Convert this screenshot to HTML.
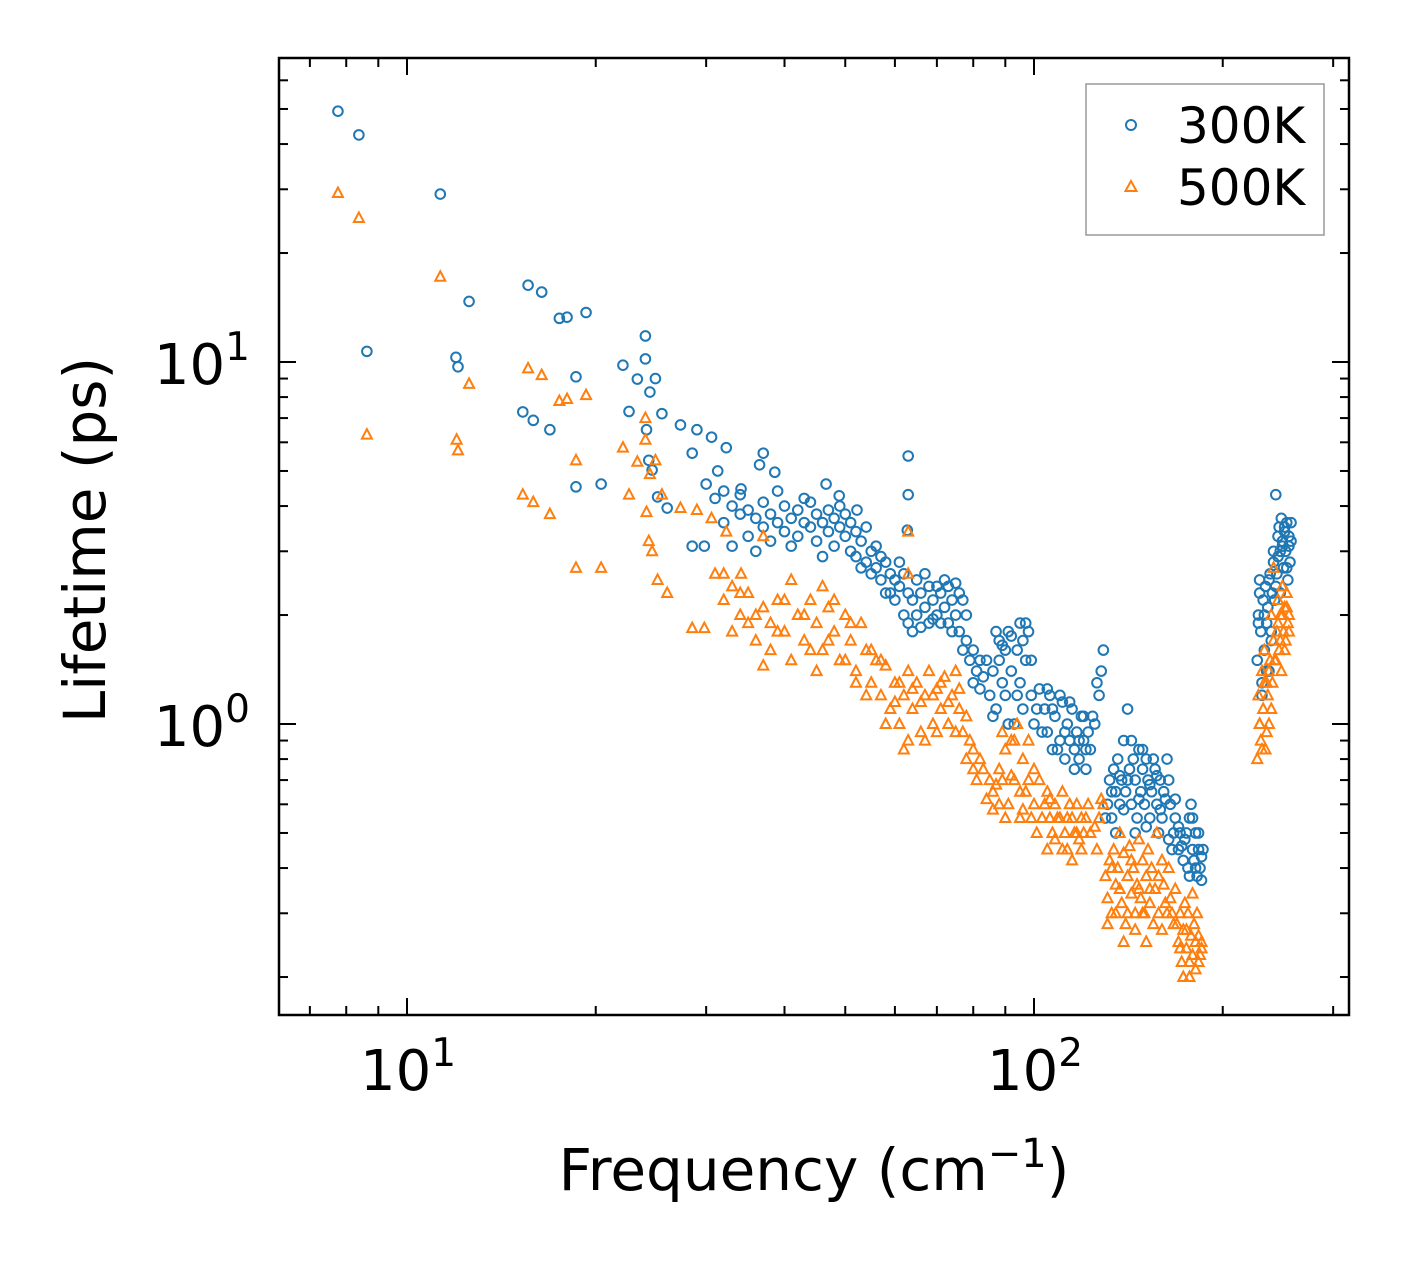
<!DOCTYPE html>
<html><head><meta charset="utf-8"><style>
html,body{margin:0;padding:0;background:#fff}
svg{display:block}
text{font-family:"DejaVu Sans","Liberation Sans",sans-serif;fill:#000}
</style></head><body>
<svg id="chart" width="1408" height="1265" viewBox="0 0 1408 1265" xmlns="http://www.w3.org/2000/svg">
<rect x="0" y="0" width="1408" height="1265" fill="#fff"/>
<g id="marks"></g>
<g id="axes"></g>
<rect x="279" y="58" width="1070" height="957" fill="none" stroke="#000" stroke-width="2.5"/>
<text x="814" y="1190" font-size="58" text-anchor="middle">Frequency (cm<tspan baseline-shift="super" font-size="40">−1</tspan>)</text>
<text transform="translate(105,540) rotate(-90)" font-size="58" text-anchor="middle">Lifetime (ps)</text>
<g>
<rect x="1086" y="84" width="238" height="151" fill="#fff" stroke="#999" stroke-width="1.5"/>
<circle cx="1131" cy="125" r="5" fill="none" stroke="#1f77b4" stroke-width="2"/>
<text x="1177" y="143" font-size="50">300K</text>
<polygon points="1131,181 1136.5,191 1125.5,191" fill="none" stroke="#ff7f0e" stroke-width="2"/>
<text x="1177" y="205" font-size="50">500K</text>
</g>
</svg>
<script>
const blueFreq=[7.76,8.38,8.63,11.3,11.97,12.06,12.56,15.6,16.4,17.5,18.0,19.3,15.3,15.9,16.9,18.6,18.6,20.4,22.1,22.6,23.3,24.0,24.0,24.4,24.9,25.5,24.1,24.3,24.6,25.1,26.0,27.3,29.0,28.5,30.6,28.5,29.8,32.3,31.3,30.0,34.1,37.0,36.5,38.6,46.6,48.9,52.2,63.0,63.0,62.8,
31,32,33,34,35,35,36,37,37,38,38,39,40,40,41,42,42,43,44,44,45,45,46,47,47,48,48,49,50,50,51,52,52,53,54,55,55,56,57,58,58,59,60,60,61,62,63,63,64,65,66,67,68,68,69,70,71,72,73,73,74,75,76,76,77,78,79,80,81,82,83,85,86,87,88,88,89,90,90,91,92,93,94,95,95,96,97,98,99,100,102,104,105,106,107,108,110,111,112,113,114,115,116,117,118,119,120,121,122,125,127,128,129,131,132,133,134,135,136,137,138,139,140,141,142,143,144,145,146,147,148,149,150,151,152,153,154,156,157,158,159,160,161,163,164,165,167,168,170,171,173,174,176,177,178,179,180,181,182,183,184,185,
227,228,229,230,231,232,233,234,235,236,237,238,239,240,241,242,243,244,245,246,247,248,249,250,251,252,253,254,255,256,257,
32,33,34,36,39,41,43,46,49,51,53,54,56,57,59,61,62,64,65,66,67,69,70,71,72,74,75,77,78,80,82,84,86,87,89,91,92,94,96,97,99,101,103,105,107,109,110,112,114,116,118,120,121,123,124,126,130,133,135,137,139,141,143,145,147,149,151,153,155,157,159,162,164,166,168,170,172,175,177,179,181,183,185,186,
228,229,231,233,235,237,239,241,243,245,247,249,251,253,255,257];
const blueLife=[49.3,42.4,10.7,29.1,10.3,9.7,14.7,16.3,15.6,13.2,13.3,13.7,7.28,6.9,6.5,9.1,4.52,4.6,9.8,7.3,8.97,11.8,10.2,8.26,9.0,7.2,6.5,5.35,5.03,4.24,3.95,6.7,6.5,5.6,6.2,3.1,3.1,5.8,5.0,4.6,4.46,5.6,5.2,4.96,4.6,4.27,3.9,5.5,4.3,3.43,
4.2,3.6,4.0,3.8,3.3,3.9,3.7,3.5,4.1,3.2,3.8,3.6,4.0,3.4,3.7,3.9,3.3,3.6,4.1,3.5,3.8,3.2,3.6,3.9,3.4,3.7,3.1,3.5,3.3,3.8,3.0,3.4,2.9,3.2,2.8,3.0,2.6,2.7,2.5,2.8,2.3,2.6,2.2,2.5,2.4,2.0,2.3,1.9,2.2,2.0,2.3,2.1,1.9,2.4,2.2,2.0,2.3,2.1,1.9,2.4,2.2,2.0,1.8,2.3,1.6,1.7,1.5,1.6,1.4,1.5,1.35,1.2,1.05,1.1,1.5,1.7,1.3,1.6,1.2,1.8,1.4,1.0,1.6,1.3,1.9,1.1,1.5,1.8,1.2,1.0,1.25,1.1,0.95,1.2,0.85,1.05,0.9,1.15,0.8,1.0,0.9,1.1,0.85,0.95,0.8,1.05,0.9,0.85,0.95,1.0,1.2,1.4,1.6,0.6,0.7,0.55,0.75,0.65,0.8,0.6,0.7,0.9,0.65,1.1,0.75,0.6,0.8,0.7,0.55,0.85,0.65,0.75,0.6,0.8,0.7,0.55,0.65,0.75,0.6,0.5,0.7,0.55,0.65,0.8,0.48,0.6,0.5,0.55,0.45,0.5,0.42,0.48,0.4,0.55,0.6,0.45,0.42,0.5,0.38,0.45,0.4,0.43,
1.5,2.0,2.5,1.8,1.3,2.2,1.6,2.4,1.9,2.1,1.4,2.6,1.7,2.3,3.0,2.2,4.3,2.6,2.9,3.5,2.3,3.7,3.1,2.7,3.4,3.0,3.6,2.5,3.3,2.8,3.2,
4.4,3.1,4.3,3.0,4.4,3.1,4.2,2.9,4.0,3.6,2.7,3.5,3.1,2.9,2.3,2.8,2.6,1.8,2.5,1.85,2.6,1.95,2.4,1.9,2.5,1.8,2.45,2.2,2.0,1.3,1.25,1.5,1.4,1.8,1.65,1.0,1.75,1.2,1.7,1.9,1.5,1.1,0.95,1.25,1.1,0.85,1.2,0.95,1.15,0.75,0.9,1.05,0.75,0.85,1.05,1.3,0.55,0.65,0.5,0.72,0.58,0.7,0.9,0.5,0.62,0.85,0.52,0.68,0.8,0.72,0.58,0.62,0.7,0.45,0.62,0.52,0.46,0.5,0.38,0.55,0.4,0.5,0.37,0.45,
1.9,2.3,1.2,2.0,1.4,2.5,1.8,2.8,2.4,3.3,3.0,3.2,3.5,2.7,3.1,3.6];
const orangeFreq=[7.76,8.38,8.63,11.3,12.0,12.06,12.56,15.3,15.9,15.6,16.4,16.9,17.5,18.0,18.6,18.6,19.3,20.4,22.1,22.6,23.3,24.0,24.0,24.4,24.9,25.5,24.1,24.3,24.6,25.1,26.0,27.3,29.0,30.6,28.5,29.8,32.3,34.1,37,63,63,
31,32,33,34,35,35,36,37,37,38,39,40,41,42,43,44,45,46,46,47,48,49,50,51,52,53,54,55,56,57,58,59,60,61,62,62,63,64,65,66,67,68,69,70,71,72,73,74,75,76,77,78,79,80,82,83,85,86,87,88,89,90,91,92,93,94,95,96,97,98,99,100,102,104,105,106,107,108,110,111,112,113,114,115,116,117,118,119,120,122,125,127,129,130,131,132,133,134,135,136,137,138,139,140,141,142,143,144,145,146,147,148,149,150,151,152,153,154,156,157,158,160,161,163,164,165,167,168,170,171,172,173,174,175,176,177,178,179,180,181,182,183,184,185,
227,228,229,230,231,232,233,234,235,236,237,238,239,240,241,242,244,245,246,247,248,249,250,251,252,253,254,255,
32,33,34,36,38,39,40,41,43,44,45,47,48,50,51,52,54,55,57,58,60,61,63,64,66,67,69,70,71,73,75,76,78,80,81,84,86,88,89,90,92,93,95,96,98,100,101,103,105,106,108,109,111,113,115,117,119,121,123,126,128,131,133,135,137,139,141,143,145,147,149,151,153,155,158,160,162,166,169,171,173,175,177,179,181,183,185,
229,231,233,235,237,239,241,243,245,247,249,251,253,255];
const orangeLife=[29.3,25.0,6.3,17.2,6.1,5.7,8.7,4.3,4.1,9.6,9.2,3.8,7.8,7.9,5.35,2.7,8.1,2.7,5.8,4.3,5.3,7.0,6.1,4.9,5.35,4.3,3.85,3.2,3.0,2.5,2.3,3.95,3.9,3.7,1.84,1.84,3.4,2.6,3.3,3.4,2.6,
2.6,2.2,2.4,2.0,1.9,2.3,1.7,2.1,1.45,1.9,2.2,1.8,2.5,2.0,1.7,2.2,1.9,2.4,1.6,2.1,1.8,1.5,2.0,1.7,1.4,1.9,1.6,1.3,1.5,1.2,1.45,1.1,1.3,1.0,1.2,0.85,1.4,1.1,1.3,0.95,1.2,1.4,1.0,1.25,1.1,1.35,1.0,1.2,1.4,1.1,0.95,1.05,0.9,0.85,0.8,0.75,0.7,0.65,0.68,0.75,0.95,0.85,0.6,0.9,0.7,1.0,0.55,0.8,0.65,0.9,0.55,0.75,0.7,0.6,0.65,0.55,0.5,0.6,0.55,0.65,0.5,0.45,0.6,0.55,0.5,0.6,0.48,0.55,0.5,0.6,0.52,0.55,0.6,0.38,0.33,0.42,0.3,0.45,0.36,0.4,0.5,0.32,0.44,0.28,0.38,0.46,0.34,0.4,0.3,0.36,0.48,0.33,0.42,0.3,0.38,0.45,0.32,0.4,0.35,0.5,0.3,0.42,0.36,0.3,0.4,0.33,0.28,0.35,0.25,0.3,0.22,0.27,0.32,0.24,0.3,0.2,0.26,0.34,0.28,0.25,0.3,0.26,0.23,0.25,
0.8,1.2,1.0,0.9,1.4,1.1,1.6,0.85,1.3,1.2,1.0,1.5,2.0,1.3,2.7,1.5,1.8,2.2,1.6,2.0,1.4,2.4,1.8,2.1,1.7,2.3,1.9,2.0,
2.6,1.8,2.3,2.0,1.6,1.8,2.2,1.5,2.0,1.6,1.4,1.7,2.2,1.5,1.9,1.3,1.2,1.6,1.5,1.0,1.15,1.3,0.9,1.25,1.15,0.9,1.2,0.95,1.3,1.15,0.95,1.25,0.8,0.75,0.7,0.62,0.58,0.6,0.7,0.55,0.72,0.9,0.65,0.58,0.7,0.6,0.5,0.55,0.45,0.62,0.48,0.55,0.45,0.55,0.42,0.5,0.45,0.55,0.5,0.45,0.62,0.28,0.4,0.3,0.35,0.25,0.3,0.42,0.27,0.35,0.3,0.25,0.35,0.28,0.38,0.27,0.32,0.3,0.28,0.24,0.2,0.27,0.22,0.23,0.21,0.22,0.24,
1.0,0.85,1.3,0.95,1.4,1.1,1.7,1.5,1.9,1.7,2.0,1.6,2.1,1.8];
const xTickVals=[10,100];
const xTickLabels=["1","2"];
const yTickVals=[1,10];
const yTickLabels=["0","1"];

const NS="http://www.w3.org/2000/svg";
const X0=407, XD=627, Y0=724, YD=362;
function xs(v){return X0+XD*(Math.log10(v)-1);}
function ys(v){return Y0-YD*Math.log10(v);}
const marks=document.getElementById('marks');
const axes=document.getElementById('axes');
function mk(tag,attrs,parent){const e=document.createElementNS(NS,tag);for(const k in attrs)e.setAttribute(k,attrs[k]);parent.appendChild(e);return e;}

for(let i=0;i<blueFreq.length;i++){
  const c=mk('circle',{cx:xs(blueFreq[i]),cy:ys(blueLife[i]),r:4.8,fill:'none',stroke:'#1f77b4','stroke-width':2},marks);
  
  
}
for(let i=0;i<orangeFreq.length;i++){
  const x=xs(orangeFreq[i]),y=ys(orangeLife[i]);
  const p=mk('polygon',{points:`${x},${y-5.5} ${x+5},${y+4} ${x-5},${y+4}`,fill:'none',stroke:'#ff7f0e','stroke-width':2},marks);
  
  
}
const L=279,R=1349,T=58,B=1015;
function xt(v,len){const x=xs(v);mk('line',{x1:x,y1:B,x2:x,y2:B-len,stroke:'#000','stroke-width':2},axes);mk('line',{x1:x,y1:T,x2:x,y2:T+len,stroke:'#000','stroke-width':2},axes);}
function yt(v,len){const y=ys(v);mk('line',{x1:L,y1:y,x2:L+len,y2:y,stroke:'#000','stroke-width':2},axes);mk('line',{x1:R,y1:y,x2:R-len,y2:y,stroke:'#000','stroke-width':2},axes);}
[7,8,9,20,30,40,50,60,70,80,90,200,300].forEach(v=>xt(v,9));
[0.2,0.3,0.4,0.5,0.6,0.7,0.8,0.9,2,3,4,5,6,7,8,9,20,30,40,50,60].forEach(v=>yt(v,9));
xTickVals.forEach((v,i)=>{xt(v,17);
  const t=mk('text',{x:xs(v)+1,y:1090,'font-size':56,'text-anchor':'middle'},axes);
  
  
  t.innerHTML='10<tspan dy="-24" font-size="39">'+xTickLabels[i]+'</tspan>';
});
yTickVals.forEach((v,i)=>{yt(v,17);
  const t=mk('text',{x:250,y:ys(v)+22,'font-size':56,'text-anchor':'end'},axes);
  
  
  t.innerHTML='10<tspan dy="-24" font-size="39">'+yTickLabels[i]+'</tspan>';
});
</script>
</body></html>
